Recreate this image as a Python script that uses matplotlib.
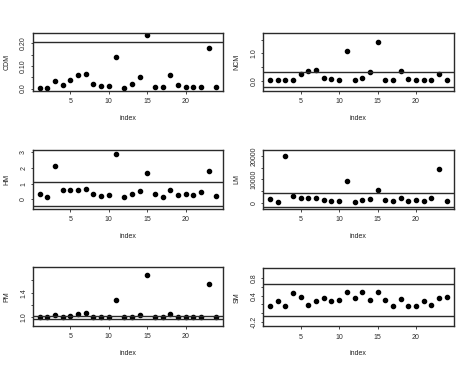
import numpy as np
import matplotlib
matplotlib.use("Agg")
import matplotlib.pyplot as plt

plt.rcParams['font.family'] = ['Liberation Sans', 'DejaVu Sans']

index = np.arange(1, 25)

cdm = [0.003, 0.003, 0.034, 0.017, 0.039, 0.059, 0.064, 0.020, 0.013, 0.010, 0.139, 0.003,
       0.019, 0.049, 0.237, 0.009, 0.006, 0.059, 0.017, 0.006, 0.009, 0.009, 0.180, 0.006]
ncm = [0.02, 0.02, 0.03, 0.05, 0.265, 0.37, 0.41, 0.12, 0.06, 0.04, 1.08, 0.02,
       0.10, 0.31, 1.41, 0.03, 0.02, 0.36, 0.085, 0.02, 0.03, 0.03, 0.24, 0.02]
hm = [0.36, 0.15, 2.10, 0.62, 0.58, 0.62, 0.66, 0.34, 0.24, 0.26, 2.87, 0.13,
      0.32, 0.56, 1.71, 0.34, 0.17, 0.62, 0.30, 0.32, 0.26, 0.47, 1.78, 0.19]
lm = [1430, 430, 20000, 3000, 1860, 2000, 2140, 1000, 710, 710, 9140, 290,
      1000, 1710, 5570, 1140, 570, 1860, 860, 1140, 710, 2000, 14290, 570]
pm = [1.00, 1.00, 1.04, 1.00, 1.03, 1.06, 1.07, 1.005, 1.00, 1.00, 1.28, 1.00,
      1.005, 1.04, 1.68, 1.00, 1.00, 1.06, 1.005, 1.00, 1.00, 1.00, 1.54, 1.00]
sm = [0.17, 0.28, 0.15, 0.45, 0.38, 0.19, 0.27, 0.34, 0.27, 0.30, 0.48, 0.35,
      0.48, 0.30, 0.48, 0.29, 0.16, 0.33, 0.17, 0.16, 0.28, 0.18, 0.35, 0.38]

# control limits (upper, lower)
limits = {
    "CDM": (0.207, -0.05),
    "NCM": (0.325, -0.22),
    "HM": (1.11, -0.43),
    "LM": (4290, -1860),
    "PM": (1.02, 0.973),
    "SM": (0.66, -0.08),
}

W, H = 474, 366
# boxes in pixels: left, top, right, bottom
panels = [
    ("CDM", cdm, (32.7, 32.7, 223.3, 90.7), (-0.0095, 0.247),
     [0, 0.05, 0.10, 0.15, 0.20], ["0.0", "", "0.10", "", "0.20"]),
    ("NCM", ncm, (263, 32.7, 453.7, 90.7), (-0.35, 1.75),
     [0, 0.5, 1.0, 1.5], ["0.0", "", "1.0", ""]),
    ("HM", hm, (32.7, 150, 223.3, 208.7), (-0.60, 3.15),
     [0, 1, 2, 3], ["0", "1", "2", "3"]),
    ("LM", lm, (263, 150, 453.7, 208.7), (-2570, 22570),
     [0, 5000, 10000, 15000, 20000], ["0", "", "10000", "", "20000"]),
    ("PM", pm, (32.7, 267.3, 223.3, 325.7), (0.865, 1.81),
     [1.0, 1.2, 1.4, 1.6], ["1.0", "", "1.4", ""]),
    ("SM", sm, (263, 268, 453.7, 326.3), (-0.31, 1.04),
     [-0.2, 0.0, 0.2, 0.4, 0.6, 0.8], ["-0.2", "", "", "0.4", "", "0.8"]),
]

fig = plt.figure(figsize=(W / 100, H / 100), dpi=100)

for name, vals, (l, t, r, b), ylim, yt, ytl in panels:
    ax = fig.add_axes([l / W, 1 - b / H, (r - l) / W, (b - t) / H])
    ax.plot(index, vals, 'o', color='black', markersize=3)
    up, lo = limits[name]
    ax.axhline(up, color='#2a2a2a', lw=1.0)
    ax.axhline(lo, color='#2a2a2a', lw=1.0)
    ax.set_xlim(0.08, 24.92)
    ax.set_ylim(*ylim)
    ax.set_xticks([5, 10, 15, 20])
    ax.set_yticks(yt)
    ax.set_yticklabels(ytl, rotation=90, va='center')
    ax.tick_params(labelsize=5, length=1.8, width=0.6, colors='#2a2a2a', pad=2.2)
    ax.tick_params(axis='x', pad=3.4)
    for s in ax.spines.values():
        s.set_linewidth(1.0)
        s.set_color('#2a2a2a')
    ax.set_xlabel("index", fontsize=5, labelpad=7, color='#222222')
    ax.set_ylabel(name, fontsize=5, labelpad=7, color='#222222')

fig.savefig("out.png", dpi=100)
